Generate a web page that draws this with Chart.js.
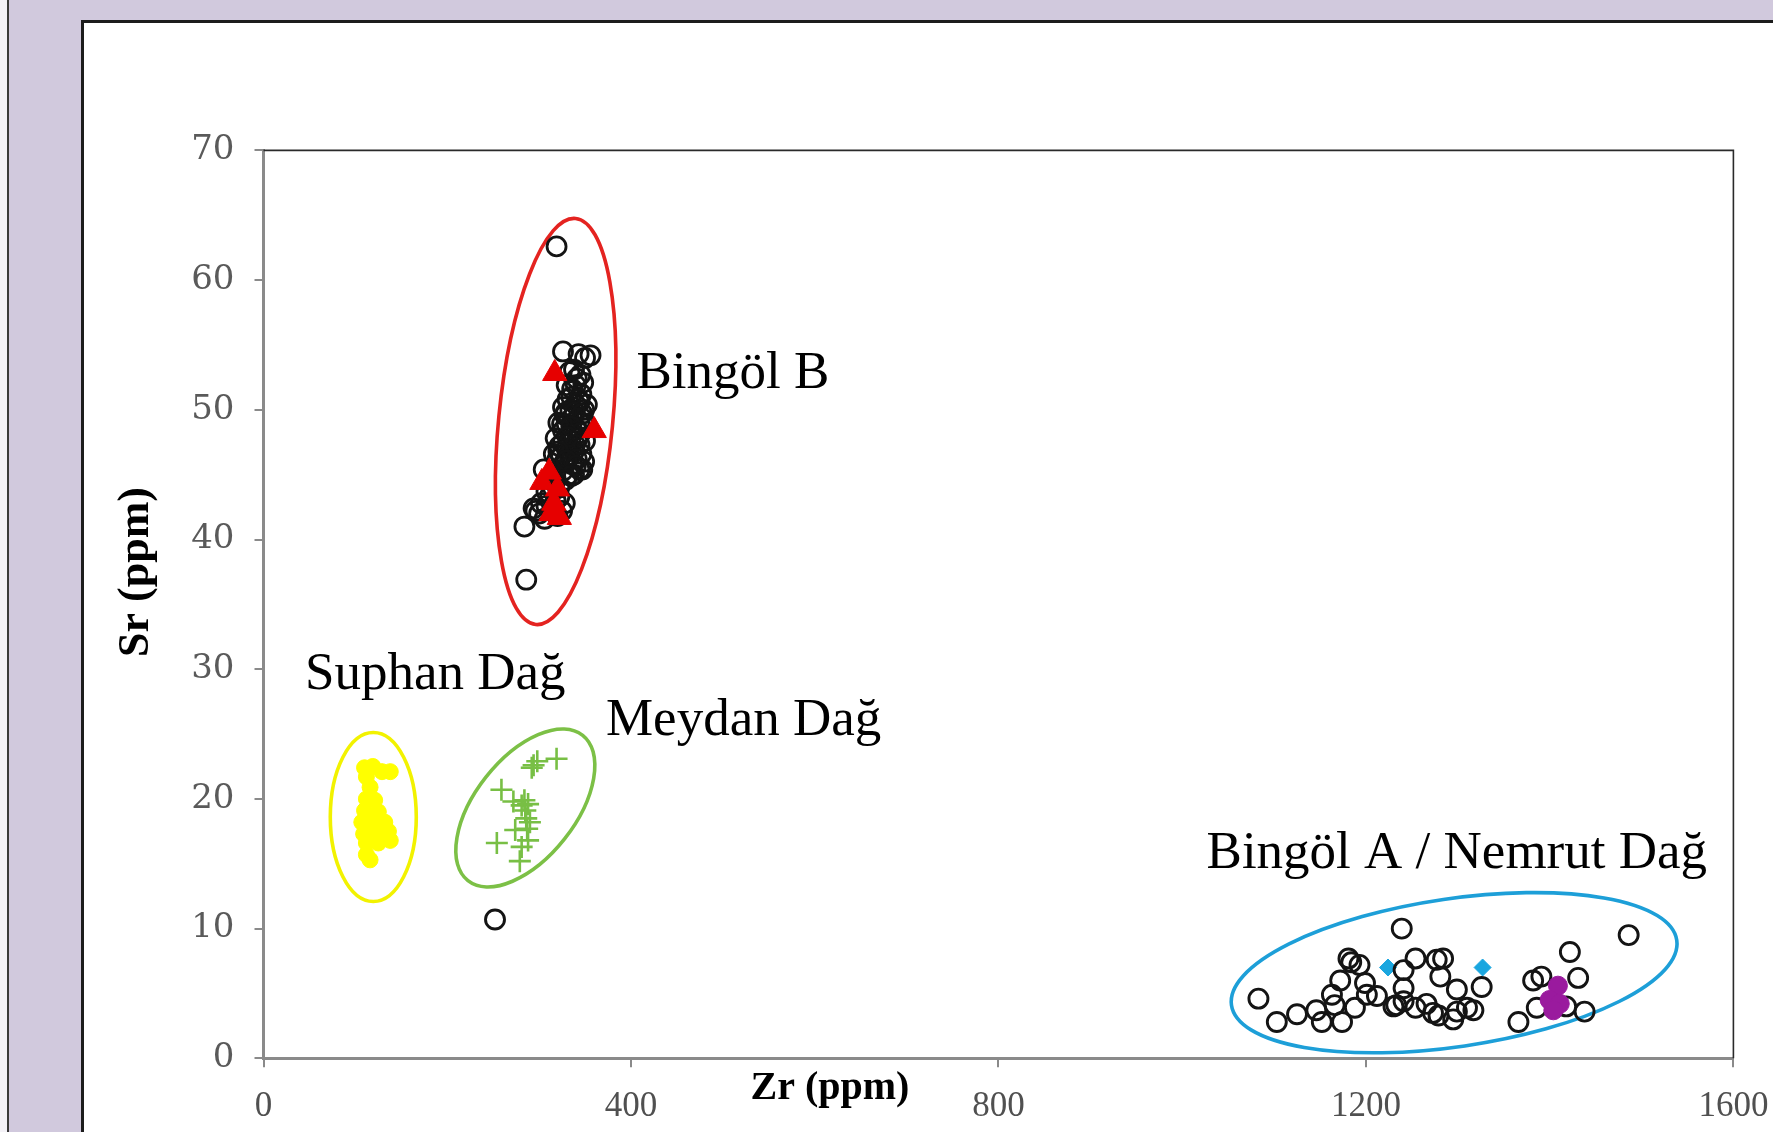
<!DOCTYPE html>
<html>
<head>
<meta charset="utf-8">
<script src="https://cdn.jsdelivr.net/npm/chart.js@4.4.1/dist/chart.umd.min.js"></script>
<style>
  html, body { margin: 0; padding: 0; }
  body { width: 1773px; height: 1132px; position: relative; overflow: hidden; background: #d1c9dd; }
  #strip { position: absolute; left: 0; top: 0; width: 7px; height: 1132px; background: #f4f2f7; border-right: 2px solid #3a3a3a; }
  #panel { position: absolute; left: 81px; top: 20px; width: 1800px; height: 1200px; background: #ffffff; border-left: 3px solid #1c1c1c; border-top: 3px solid #1c1c1c; }
  #chart { position: absolute; left: 0; top: 0; }
</style>
</head>
<body>
<div id="strip"></div>
<div id="panel"></div>
<canvas id="chart" width="1773" height="1132"></canvas>
<script>
// Sr vs Zr (ppm) for obsidian sources of eastern Anatolia

// Open circles: Bingöl B group
const bingolB_zr = [319, 286, 284, 294, 300, 308, 316, 325, 328, 305, 312, 317, 322, 326, 343, 350, 356, 341, 336, 346, 331, 340, 349, 328, 336, 344, 352, 326, 334, 342, 350, 322, 330, 338, 346, 320, 328, 336, 344, 332, 318, 322, 312, 302,
  333, 338, 345, 330, 340, 348, 326, 334, 344, 352, 321, 330, 340, 348, 318, 326, 334, 344, 316, 324, 333, 341, 349, 326, 338, 347, 315, 308, 318, 296, 306, 320,
  335, 343, 329, 339, 347, 325, 335, 345, 331, 339, 321, 330, 340, 335, 329];
const bingolB_sr = [62.6, 36.9, 41.0, 42.4, 42.0, 42.6, 42.3, 42.2, 42.8, 45.4, 44.8, 44.4, 44.0, 54.5, 54.3, 54.0, 54.2, 52.4, 51.6, 51.2, 50.8, 50.4, 50.0, 49.6, 49.4, 49.0, 48.8, 48.4, 48.2, 47.8, 47.6, 47.2, 47.0, 46.8, 46.6, 46.2, 46.0, 45.8, 45.4, 45.0, 45.2, 43.3, 43.4, 42.8,
  52.9, 53.1, 52.7, 51.9, 51.9, 52.1, 50.2, 50.0, 50.6, 50.4, 49.0, 48.9, 48.6, 49.3, 47.8, 47.5, 47.6, 47.3, 46.6, 46.4, 46.5, 46.2, 46.0, 45.3, 45.0, 45.4, 44.0, 43.7, 43.0, 42.2, 41.6, 41.8,
  51.0, 50.8, 49.8, 49.8, 49.7, 48.9, 48.7, 48.2, 47.9, 47.3, 46.8, 46.1, 45.7, 44.9, 44.6];

// Filled triangles inside the Bingöl B field
const triangle_zr = [317, 360, 303, 311, 320, 313, 322, 316];
const triangle_sr = [52.8, 48.4, 44.4, 45.2, 43.9, 42.0, 41.7, 42.8];

// Open circles: Bingöl A / Nemrut Dağ group, plus one isolated sample
const bingolA_zr = [1083, 1103, 1125, 1146, 1152, 1163, 1166, 1172, 1174, 1181, 1184, 1193, 1188, 1199, 1201, 1212, 1230, 1233, 1239, 1241, 1241, 1241, 1254, 1254, 1266, 1273, 1279, 1281, 1277, 1284, 1299, 1299, 1295, 1310, 1317, 1326, 1366, 1382, 1391, 1386, 1422, 1431, 1418, 1438, 1486, 252];
const bingolA_sr = [4.6, 2.8, 3.4, 3.7, 2.8, 4.9, 4.1, 6.0, 2.8, 7.7, 7.4, 7.2, 3.9, 5.8, 4.9, 4.8, 4.0, 4.1, 10.0, 6.8, 5.4, 4.4, 7.7, 3.9, 4.2, 3.5, 3.3, 6.3, 7.6, 7.7, 5.3, 3.6, 3.0, 3.9, 3.7, 5.5, 2.8, 6.0, 6.3, 3.9, 8.2, 6.2, 4.0, 3.6, 9.5, 10.7];

// Suphan Dağ (yellow)
const suphan_zr = [110, 119, 129, 138, 112, 116, 112, 121, 110, 125, 107, 119, 132, 109, 123, 136, 138, 112, 125, 112, 116];
const suphan_sr = [22.4, 22.5, 22.1, 22.1, 21.7, 20.9, 20.0, 19.9, 19.1, 19.0, 18.2, 18.2, 18.2, 17.3, 17.5, 17.5, 16.8, 16.6, 16.6, 15.7, 15.3];

// Meydan Dağ (green crosses)
const meydan_zr = [294, 298, 292, 319, 259, 272, 281, 285, 288, 286, 290, 274, 287, 288, 254, 281, 279, 284];
const meydan_sr = [22.6, 22.9, 22.4, 23.1, 20.7, 19.8, 19.5, 19.1, 19.6, 18.5, 18.2, 17.6, 17.7, 16.8, 16.6, 16.3, 15.2, 19.9];

// Blue diamonds and purple discs in the Bingöl A / Nemrut field
const diamond_zr = [1224, 1327];
const diamond_sr = [7.0, 7.0];
const purple_zr = [1409, 1400, 1411, 1404];
const purple_sr = [5.6, 4.5, 4.2, 3.7];

// Axis ticks
const xTicks = [0, 400, 800, 1200, 1600];
const yTicks = [0, 10, 20, 30, 40, 50, 60, 70];

// Group outlines: centre in data units, semi-axes in px, rotation in degrees
const groupOutlines = [
  { zr: 318, sr: 49.1, rx: 57, ry: 204, rot: 5.6, color: '#e42320' },
  { zr: 119.5, sr: 18.6, rx: 43, ry: 84.5, rot: 0, color: '#f2f200' },
  { zr: 285, sr: 19.3, rx: 92.6, ry: 50, rot: -51.7, color: '#7cc046' },
  { zr: 1296, sr: 6.6, rx: 225, ry: 74, rot: -8.3, color: '#1d9fd8' }
];

// Group names, anchored at left end of the baseline (data units)
const groupNames = [
  { text: 'Bingöl B', zr: 406, sr: 51.7 },
  { text: 'Suphan Dağ', zr: 45.2, sr: 28.5 },
  { text: 'Meydan Dağ', zr: 372.8, sr: 24.9 },
  { text: 'Bingöl A / Nemrut Dağ', zr: 1026.5, sr: 14.64 }
];

const pts = (xs, ys) => xs.map((x, i) => ({ x: x, y: ys[i] }));

const outlinePlugin = {
  id: 'groupOutlines',
  beforeDatasetsDraw(chart) {
    const ctx = chart.ctx, xs = chart.scales.x, ys = chart.scales.y;
    ctx.save();
    groupOutlines.forEach(g => {
      ctx.beginPath();
      ctx.ellipse(xs.getPixelForValue(g.zr), ys.getPixelForValue(g.sr), g.rx, g.ry, g.rot * Math.PI / 180, 0, Math.PI * 2);
      ctx.strokeStyle = g.color;
      ctx.lineWidth = 3.6;
      ctx.stroke();
    });
    ctx.restore();
  },
  afterDatasetsDraw(chart) {
    const ctx = chart.ctx, xs = chart.scales.x, ys = chart.scales.y, a = chart.chartArea;
    ctx.save();
    // top and right frame of the plot area
    ctx.strokeStyle = '#2a2a2a';
    ctx.lineWidth = 1.6;
    ctx.beginPath();
    ctx.moveTo(a.left, a.top);
    ctx.lineTo(a.right, a.top);
    ctx.lineTo(a.right, a.bottom);
    ctx.stroke();
    // group names
    ctx.fillStyle = '#000';
    ctx.font = '53px "Liberation Serif", "Times New Roman", serif';
    ctx.textBaseline = 'alphabetic';
    ctx.textAlign = 'left';
    groupNames.forEach(n => ctx.fillText(n.text, xs.getPixelForValue(n.zr), ys.getPixelForValue(n.sr)));
    // axis titles
    ctx.font = 'bold 40px "Liberation Serif", "Times New Roman", serif';
    ctx.textAlign = 'center';
    ctx.textBaseline = 'middle';
    ctx.fillText('Zr (ppm)', 830, 1089);
    ctx.font = 'bold 44px "Liberation Serif", "Times New Roman", serif';
    ctx.translate(137, 572);
    ctx.rotate(-Math.PI / 2);
    ctx.fillText('Sr (ppm)', 0, 0);
    ctx.restore();
  }
};

new Chart(document.getElementById('chart'), {
  type: 'scatter',
  data: {
    datasets: [
      { label: 'Suphan Dağ', data: pts(suphan_zr, suphan_sr), pointStyle: 'circle', pointRadius: 8, backgroundColor: '#ffff00', borderColor: '#ffff00', borderWidth: 1 },
      { label: 'Meydan Dağ', data: pts(meydan_zr, meydan_sr), pointStyle: 'cross', pointRadius: 11, borderColor: '#78bf45', backgroundColor: '#78bf45', borderWidth: 2.6 },
      { label: 'Bingöl B triangles', data: pts(triangle_zr, triangle_sr), pointStyle: 'triangle', pointRadius: 14, backgroundColor: '#e60000', borderColor: '#e60000', borderWidth: 1 },
      { label: 'Bingöl B', data: pts(bingolB_zr, bingolB_sr), pointStyle: 'circle', pointRadius: 9.5, backgroundColor: 'rgba(0,0,0,0)', borderColor: '#141414', borderWidth: 2.8 },
      { label: 'Purple', data: pts(purple_zr, purple_sr), pointStyle: 'circle', pointRadius: 9.5, backgroundColor: '#9a1a9e', borderColor: '#9a1a9e', borderWidth: 1 },
      { label: 'Bingöl A / Nemrut Dağ', data: pts(bingolA_zr, bingolA_sr), pointStyle: 'circle', pointRadius: 9.5, backgroundColor: 'rgba(0,0,0,0)', borderColor: '#141414', borderWidth: 2.9 },
      { label: 'Diamonds', data: pts(diamond_zr, diamond_sr), pointStyle: 'rectRot', pointRadius: 8.5, backgroundColor: '#1aa6df', borderColor: '#1aa6df', borderWidth: 1 }
    ]
  },
  options: {
    responsive: false,
    animation: false,
    devicePixelRatio: 1,
    layout: { padding: { left: 0, top: 150.4, right: 39.6, bottom: 0 } },
    plugins: { legend: { display: false }, tooltip: { enabled: false } },
    scales: {
      x: {
        type: 'linear', min: 0, max: 1600,
        afterBuildTicks: s => { s.ticks = xTicks.map(v => ({ value: v })); },
        afterFit: s => { s.height = 73.7; s.paddingLeft = 0; s.paddingRight = 0; },
        grid: { drawOnChartArea: false, drawTicks: true, tickLength: 9, color: '#8a8a8a', lineWidth: 2 },
        border: { display: true, color: '#8a8a8a', width: 3 },
        ticks: { padding: 19, color: '#505050', callback: v => String(v), font: { family: '"Liberation Serif", serif', size: 35 } }
      },
      y: {
        type: 'linear', min: 0, max: 70,
        afterBuildTicks: s => { s.ticks = yTicks.map(v => ({ value: v })); },
        afterFit: s => { s.width = 263.5; s.paddingTop = 0; s.paddingBottom = 0; },
        grid: { drawOnChartArea: false, drawTicks: true, tickLength: 9, color: '#8a8a8a', lineWidth: 2 },
        border: { display: true, color: '#8a8a8a', width: 3 },
        ticks: { padding: 20, color: '#5a5a5a', callback: v => String(v), font: { family: '"DejaVu Serif", serif', size: 34 } }
      }
    }
  },
  plugins: [outlinePlugin]
});
</script>
</body>
</html>
